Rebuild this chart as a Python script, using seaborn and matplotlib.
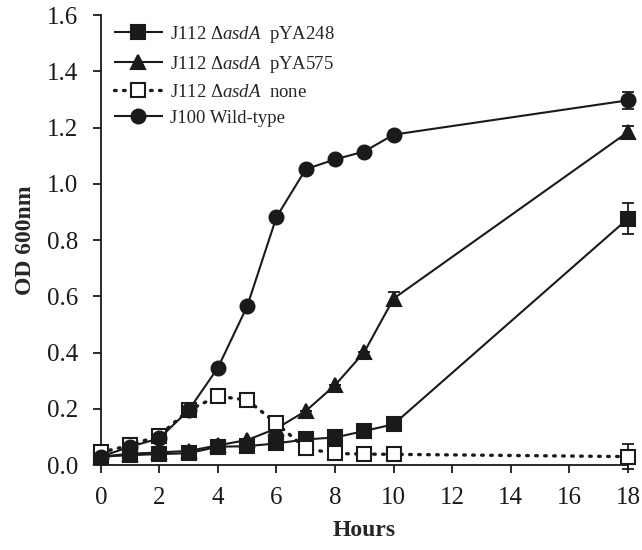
import matplotlib
matplotlib.use("Agg")
import matplotlib.pyplot as plt
import seaborn as sns
import pandas as pd
import numpy as np

hours = [0, 1, 2, 3, 4, 5, 6, 7, 8, 9, 10, 18]
pya248 = [0.030, 0.035, 0.039, 0.042, 0.065, 0.067, 0.077, 0.091, 0.098, 0.121, 0.145, 0.876]
pya575 = [0.030, 0.040, 0.045, 0.050, 0.070, 0.089, 0.130, 0.192, 0.284, 0.402, 0.592, 1.184]
none_ = [0.045, 0.070, 0.105, 0.195, 0.245, 0.231, 0.148, 0.059, 0.041, 0.039, 0.038, 0.030]
wildtype = [0.030, 0.065, 0.095, 0.195, 0.346, 0.565, 0.882, 1.052, 1.087, 1.115, 1.175, 1.297]

err248 = [0, 0, 0, 0, 0, 0, 0, 0, 0, 0, 0, 0.055]
err575 = [0, 0, 0, 0, 0, 0, 0, 0, 0, 0, 0.024, 0.020]
errnone = [0, 0, 0, 0, 0, 0, 0, 0, 0, 0, 0, 0.045]
errwt = [0, 0, 0, 0, 0, 0, 0, 0, 0, 0, 0, 0.031]

labels = [r"J112 $\Delta\mathit{asdA}$  pYA248",
          r"J112 $\Delta\mathit{asdA}$  pYA575",
          r"J112 $\Delta\mathit{asdA}$  none",
          "J100 Wild-type"]

sns.set_theme(style="ticks")
plt.rcParams["font.family"] = ["Liberation Serif", "DejaVu Serif"]
plt.rcParams["mathtext.fontset"] = "custom"
plt.rcParams["mathtext.rm"] = "Liberation Serif"
plt.rcParams["mathtext.it"] = "Liberation Serif:italic"

fig = plt.figure(figsize=(6.42, 5.5), dpi=100)
ax = fig.add_axes([0.157, 0.1545, 0.821, 0.818])

series = [
    (pya248, err248, labels[0], "s", "k", "-"),
    (pya575, err575, labels[1], "^", "k", "-"),
    (none_, errnone, labels[2], "s", "white", (0, (0.5, 2.2))),
    (wildtype, errwt, labels[3], "o", "k", "-"),
]

for vals, errs, lab, mk, fc, ls in series:
    ax.errorbar(hours, vals, yerr=errs, fmt="none", ecolor="k", elinewidth=1.3,
                capsize=4.5, capthick=1.3, zorder=2, clip_on=False)
    lw = 2.4 if ls != "-" else 1.5
    sns.lineplot(x=hours, y=vals, ax=ax, color="k", marker=mk, markersize=10,
                 markerfacecolor=fc, markeredgecolor="k", markeredgewidth=1.5,
                 linestyle=ls, linewidth=lw, label=lab, clip_on=False, zorder=3,
                 dash_capstyle="round", solid_capstyle="butt")

ax.set_xlim(0, 18)
ax.set_ylim(0, 1.6)
ax.set_xticks(np.arange(0, 19, 2))
ax.set_yticks(np.arange(0, 1.61, 0.2))
ax.set_yticklabels([f"{v:.1f}" for v in np.arange(0, 1.61, 0.2)])
ax.tick_params(axis="both", direction="out", length=6, width=1.3, colors="k",
               labelsize=18, pad=10)
ax.tick_params(axis="y", pad=10)
for sp in ["left", "bottom"]:
    ax.spines[sp].set_linewidth(1.3)
    ax.spines[sp].set_color("k")
sns.despine(ax=ax)

ax.set_xlabel("Hours", fontsize=17, fontweight="bold", labelpad=8)
ax.set_ylabel("OD 600nm", fontsize=17, fontweight="bold", labelpad=8)

leg = ax.legend(loc="upper left", bbox_to_anchor=(0.0, 1.01), frameon=False,
                fontsize=13.5, handlelength=2.6, handletextpad=0.4,
                labelspacing=0.48, borderaxespad=0.3)

fig.savefig("out.png", dpi=100)
